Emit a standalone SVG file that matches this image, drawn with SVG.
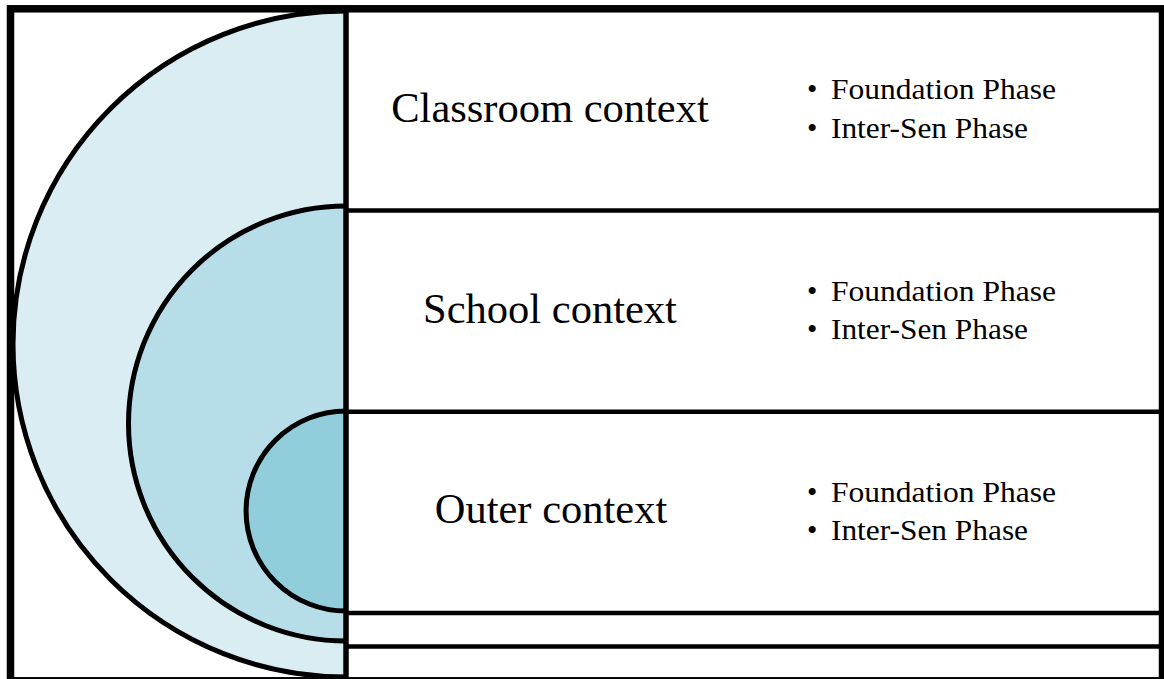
<svg xmlns="http://www.w3.org/2000/svg" width="1164" height="679" viewBox="0 0 1164 679">
<style>
.line{stroke:#000;stroke-width:4.5;fill:none}
.arc{stroke:#000;stroke-width:5;fill:none}
.ctx{font-family:"Liberation Serif","Times New Roman",serif;font-size:42.5px;fill:#000;text-anchor:middle}
.bul{font-family:"Liberation Serif","Times New Roman",serif;font-size:29.5px;fill:#000}
</style>
<rect width="1164" height="679" fill="#fff"/>
<g id="circles">
<path d="M346,11 A333,333 0 0 0 346,677 Z" fill="#DAEDF3"/>
<path d="M346,206 A217.5,217.5 0 0 0 346,641 Z" fill="#B7DDE8"/>
<path d="M346,411 A100,100 0 0 0 346,611 Z" fill="#92CDDC"/>
<path class="arc" d="M346,11 A333,333 0 0 0 346,677"/>
<path class="arc" d="M346,206 A217.5,217.5 0 0 0 346,641"/>
<path class="arc" d="M346,411 A100,100 0 0 0 346,611"/>
</g>
<g id="frame">
<rect x="10.5" y="8.8" width="1152" height="672" fill="none" stroke="#000" stroke-width="7.5"/>
<line class="line" x1="346" y1="8" x2="346" y2="679" style="stroke-width:5.5"/>
<line class="line" x1="346" y1="210.5" x2="1162" y2="210.5"/>
<line class="line" x1="346" y1="411.7" x2="1162" y2="411.7"/>
<line class="line" x1="346" y1="613" x2="1162" y2="613"/>
<line class="line" x1="346" y1="646.5" x2="1162" y2="646.5"/>
</g>
<g id="classroom">
<text class="ctx" x="550" y="121.5">Classroom context</text>
<text class="bul" x="807" y="99.3">•</text><text class="bul" x="831" y="99.3" textLength="225" lengthAdjust="spacingAndGlyphs">Foundation Phase</text>
<text class="bul" x="807" y="137.5">•</text><text class="bul" x="831" y="137.5" textLength="197" lengthAdjust="spacingAndGlyphs">Inter-Sen Phase</text>
</g>
<g id="school">
<text class="ctx" x="550" y="323.3">School context</text>
<text class="bul" x="807" y="300.7">•</text><text class="bul" x="831" y="300.7" textLength="225" lengthAdjust="spacingAndGlyphs">Foundation Phase</text>
<text class="bul" x="807" y="338.5">•</text><text class="bul" x="831" y="338.5" textLength="197" lengthAdjust="spacingAndGlyphs">Inter-Sen Phase</text>
</g>
<g id="outer">
<text class="ctx" x="551" y="523.3">Outer context</text>
<text class="bul" x="807" y="502">•</text><text class="bul" x="831" y="502" textLength="225" lengthAdjust="spacingAndGlyphs">Foundation Phase</text>
<text class="bul" x="807" y="540">•</text><text class="bul" x="831" y="540" textLength="197" lengthAdjust="spacingAndGlyphs">Inter-Sen Phase</text>
</g>
</svg>
